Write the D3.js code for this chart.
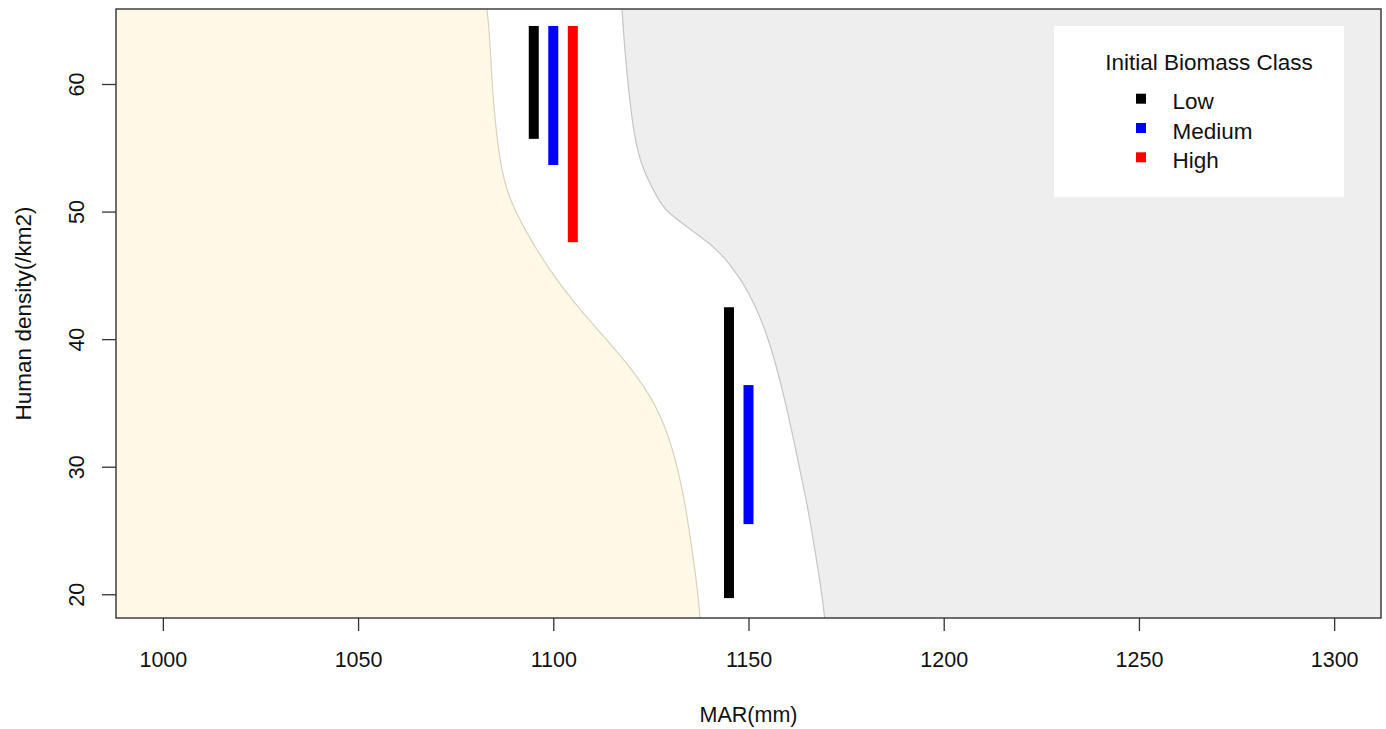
<!DOCTYPE html>
<html>
<head>
<meta charset="utf-8">
<script src="https://cdn.jsdelivr.net/npm/d3@7"></script>
<style>
  html, body { margin: 0; padding: 0; background: #fff; }
  svg { display: block; font-family: "Liberation Sans", Arial, sans-serif; }
</style>
</head>
<body>
<svg id="chart" width="1386" height="729"></svg>
<script>
// ---- data ----
const xTicks = [1000, 1050, 1100, 1150, 1200, 1250, 1300];
const yTicks = [20, 30, 40, 50, 60];
const xDomain = [988, 1312];
const yDomain = [18.14, 65.88];

// left boundary (beige region lies left of it)
const leftDensity = [65.88, 64.0, 58.75, 53.5, 50.9, 48.3, 45.66, 43.07, 40.49, 37.82, 35.24, 32.65, 29.98, 27.4, 24.81, 22.15, 19.56, 18.14];
const leftMAR     = [1083.0, 1083.7, 1084.5, 1086.4, 1088.8, 1093.2, 1098.5, 1104.7, 1112.1, 1119.8, 1125.6, 1129.3, 1131.8, 1133.6, 1134.9, 1136.2, 1137.2, 1137.6];

// right boundary (grey region lies right of it)
const rightDensity = [65.88, 64.0, 61.33, 58.75, 56.16, 53.5, 50.91, 49.99, 48.32, 47.12, 45.66, 44.4, 42.84, 40.49, 37.82, 35.24, 32.65, 29.98, 27.4, 24.81, 22.15, 19.56, 18.14];
const rightMAR     = [1117.6, 1118.0, 1118.7, 1119.6, 1120.6, 1122.5, 1126.95, 1128.9, 1136.4, 1141.7, 1145.8, 1148.6, 1151.4, 1154.6, 1157.2, 1159.3, 1161.2, 1163.0, 1164.8, 1166.3, 1167.7, 1169.0, 1169.5];

// bars (segments)
const barClass = ["Low", "Medium", "High", "Low", "Medium"];
const barMAR   = [1095, 1100, 1105, 1145, 1150];
const barFrom  = [55.7, 53.65, 47.6, 19.7, 25.5];
const barTo    = [64.55, 64.55, 64.55, 42.5, 36.4];

const classes = ["Low", "Medium", "High"];
const classColors = ["#000000", "#0000FF", "#FF0000"];
const legendTitle = "Initial Biomass Class";
const xLabel = "MAR(mm)";
const yLabel = "Human density(/km2)";

// ---- layout ----
const L = 116, R = 1381, T = 9, B = 618;
const svg = d3.select("#chart");
const x = d3.scaleLinear().domain(xDomain).range([L, R]);
const y = d3.scaleLinear().domain(yDomain).range([B, T]);
const color = d3.scaleOrdinal().domain(classes).range(classColors);

svg.append("defs").append("clipPath").attr("id", "clip")
  .append("rect").attr("x", L).attr("y", T).attr("width", R - L).attr("height", B - T);

const plot = svg.append("g").attr("clip-path", "url(#clip)");

const leftPts = leftDensity.map((d, i) => [leftMAR[i], d]);
const rightPts = rightDensity.map((d, i) => [rightMAR[i], d]);

const curveLine = d3.line().x(p => x(p[0])).y(p => y(p[1])).curve(d3.curveBasis);

// beige region
const leftPath = curveLine(leftPts);
plot.append("path")
  .attr("d", leftPath + `L${x(xDomain[0])},${y(yDomain[0])}L${x(xDomain[0])},${y(yDomain[1])}Z`)
  .attr("fill", "#FEF8E7");
// grey region
const rightPath = curveLine(rightPts);
plot.append("path")
  .attr("d", rightPath + `L${x(xDomain[1])},${y(yDomain[0])}L${x(xDomain[1])},${y(yDomain[1])}Z`)
  .attr("fill", "#EEEEEE");
// boundary lines
plot.append("path").attr("d", leftPath).attr("fill", "none").attr("stroke", "#D8D2BE").attr("stroke-width", 1.2);
plot.append("path").attr("d", rightPath).attr("fill", "none").attr("stroke", "#C6C6C6").attr("stroke-width", 1.2);

// bars
const bw = 10;
plot.selectAll("rect.bar").data(barMAR).enter().append("rect")
  .attr("class", "bar")
  .attr("x", d => x(d) - bw / 2)
  .attr("width", bw)
  .attr("y", (d, i) => y(barTo[i]))
  .attr("height", (d, i) => y(barFrom[i]) - y(barTo[i]))
  .attr("fill", (d, i) => color(barClass[i]));

// legend
const lg = svg.append("g");
lg.append("rect").attr("x", 1054).attr("y", 26).attr("width", 290).attr("height", 171).attr("fill", "#fff");
lg.append("text").attr("x", 1209).attr("y", 70).attr("text-anchor", "middle")
  .attr("font-size", 22.5).attr("fill", "#111").text(legendTitle);
classes.forEach((c, i) => {
  const cy = 98.7 + i * 29.3;
  lg.append("rect").attr("x", 1136).attr("y", cy - 5).attr("width", 10).attr("height", 10).attr("fill", color(c));
  lg.append("text").attr("x", 1172.5).attr("y", 109.3 + i * 29.2).attr("font-size", 22.5).attr("fill", "#111").text(c);
});

// axes
const fs = 21.5;
const xAxis = svg.append("g").attr("transform", `translate(0,${B})`)
  .call(d3.axisBottom(x).tickValues(xTicks).tickSize(13).tickFormat(d3.format("d")));
xAxis.select(".domain").remove();
xAxis.selectAll(".tick line").attr("stroke", "#333").attr("stroke-width", 1.3);
xAxis.selectAll(".tick text").attr("y", 49).attr("dy", 0).attr("font-size", fs).attr("fill", "#111")
  .attr("font-family", '"Liberation Sans", Arial, sans-serif');

const yAxis = svg.append("g").attr("transform", `translate(${L},0)`)
  .call(d3.axisLeft(y).tickValues(yTicks).tickSize(14).tickFormat(d3.format("d")));
yAxis.select(".domain").remove();
yAxis.selectAll(".tick line").attr("stroke", "#333").attr("stroke-width", 1.3);
yAxis.selectAll(".tick text").attr("x", null).attr("dy", 0).attr("text-anchor", "middle")
  .attr("transform", "translate(-32,0) rotate(-90)")
  .attr("font-size", fs).attr("fill", "#111")
  .attr("font-family", '"Liberation Sans", Arial, sans-serif');

// box
svg.append("rect").attr("x", L).attr("y", T).attr("width", R - L).attr("height", B - T)
  .attr("fill", "none").attr("stroke", "#333").attr("stroke-width", 1.4);

// axis titles
svg.append("text").attr("x", (L + R) / 2).attr("y", 722).attr("text-anchor", "middle")
  .attr("font-size", fs).attr("fill", "#111").text(xLabel);
svg.append("text").attr("transform", `translate(31,${(T + B) / 2}) rotate(-90)`).attr("text-anchor", "middle")
  .attr("font-size", 22.5).attr("fill", "#111").text(yLabel);
</script>
</body>
</html>
